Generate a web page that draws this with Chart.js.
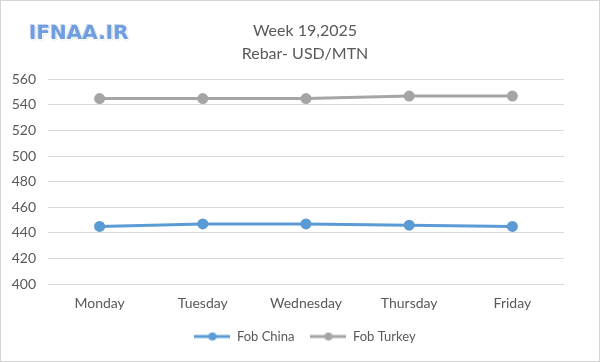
<!DOCTYPE html>
<html>
<head>
<meta charset="utf-8">
<script src="https://cdn.jsdelivr.net/npm/chart.js@4.4.1/dist/chart.umd.min.js"></script>
<style>
  html, body { margin: 0; padding: 0; background: #fff; }
  #wrap { position: relative; width: 600px; height: 362px; }
  #frame { position: absolute; left: 0; top: 0; width: 600px; height: 362px; box-sizing: border-box; border: 1px solid #d4d4d4; pointer-events: none; }
  #logo { position: absolute; left: 29px; top: 20px; font-family: "DejaVu Sans", sans-serif; font-weight: bold; font-size: 20px; line-height: 24px; color: #6f9ee0; text-shadow: 1px 1px 0 #ffffff, -1px -1px 0 #c8d6ec, 1px 1px 1px #8a96a8; }
</style>
</head>
<body>
<div id="wrap">
  <canvas id="c" width="600" height="362"></canvas>
  <div id="logo">IFNAA.IR</div>
  <div id="frame"></div>
</div>
<script>
const days = ["Monday", "Tuesday", "Wednesday", "Thursday", "Friday"];
const fobChina = [445, 447, 447, 446, 445];
const fobTurkey = [545, 545, 545, 547, 547];
const titleLines = ["Week 19,2025", "Rebar- USD/MTN"];
const seriesNames = ["Fob China", "Fob Turkey"];
const seriesColors = ["#5b9bd5", "#a5a5a5"];

function legendIcon(color) {
  const cv = document.createElement("canvas");
  cv.width = 36; cv.height = 10;
  const g = cv.getContext("2d");
  g.strokeStyle = color; g.lineWidth = 3;
  g.beginPath(); g.moveTo(0, 5); g.lineTo(36, 5); g.stroke();
  g.fillStyle = color;
  g.beginPath(); g.arc(18, 5, 4, 0, Math.PI * 2); g.fill();
  return cv;
}
const icons = seriesColors.map(legendIcon);

const FONT = "Lato, 'Open Sans', sans-serif";
new Chart(document.getElementById("c"), {
  type: "line",
  data: {
    labels: days,
    datasets: [
      { label: seriesNames[0], data: fobChina, borderColor: seriesColors[0], backgroundColor: seriesColors[0], borderWidth: 3, pointRadius: 4, pointHoverRadius: 4, tension: 0 },
      { label: seriesNames[1], data: fobTurkey, borderColor: seriesColors[1], backgroundColor: seriesColors[1], borderWidth: 3, pointRadius: 4, pointHoverRadius: 4, tension: 0 }
    ]
  },
  options: {
    responsive: false,
    animation: false,
    layout: { padding: { left: 10, right: 0, top: 0, bottom: 9 } },
    plugins: {
      title: {
        display: true,
        text: titleLines,
        color: "#595959",
        font: { family: FONT, size: 16, weight: "normal", lineHeight: 1.45 },
        padding: { top: 19, bottom: 14 }
      },
      legend: {
        position: "bottom",
        labels: {
          color: "#595959",
          font: { family: FONT, size: 13 },
          usePointStyle: true,
          pointStyleWidth: 36,
          padding: 16,
          generateLabels(chart) {
            const items = Chart.defaults.plugins.legend.labels.generateLabels(chart);
            items.forEach((it, i) => { it.pointStyle = icons[i]; });
            return items;
          }
        }
      },
      tooltip: { enabled: false }
    },
    scales: {
      x: {
        offset: true,
        grid: { display: false, drawTicks: false },
        border: { display: false },
        ticks: { color: "#595959", font: { family: FONT, size: 14 }, padding: 11, maxRotation: 0 },
        afterFit(s) { s.height = 30; }
      },
      y: {
        min: 400, max: 560,
        ticks: { stepSize: 20, color: "#595959", font: { family: FONT, size: 14 }, padding: 12 },
        grid: { color: "#d9d9d9", drawTicks: false, lineWidth: 1 },
        border: { display: false },
        afterFit(s) { s.width = 38; }
      },
      y2: {
        position: "right",
        display: true,
        grid: { display: false },
        border: { display: false },
        ticks: { display: false },
        afterFit(s) { s.width = 36; }
      }
    }
  }
});
</script>
</body>
</html>
